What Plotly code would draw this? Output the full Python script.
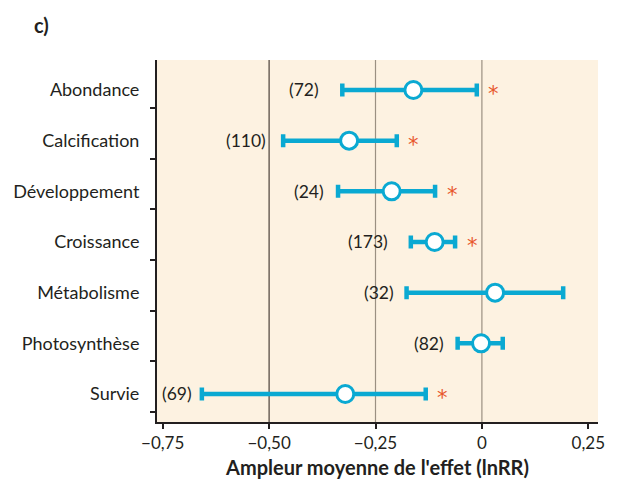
import plotly.graph_objects as go

# Effect sizes (lnRR) with confidence limits, one row per response
categories = ["Abondance", "Calcification", "Développement", "Croissance",
              "Métabolisme", "Photosynthèse", "Survie"]
mean_effect = [-0.161, -0.312, -0.212, -0.111, 0.031, -0.002, -0.321]
ci_low = [-0.328, -0.467, -0.338, -0.167, -0.177, -0.057, -0.658]
ci_high = [-0.012, -0.200, -0.110, -0.063, 0.191, 0.049, -0.132]
n_studies = [72, 110, 24, 173, 32, 82, 69]
significant = [True, True, True, True, False, False, True]

x_tickvals = [-0.75, -0.50, -0.25, 0, 0.25]
x_ticktext = ["\u22120,75", "\u22120,50", "\u22120,25", "0", "0,25"]
reference_lines = [-0.50, -0.25, 0]

# styling
BLUE = "#0aa9d2"
STAR = "#e8572c"
INK = "#231f20"
BG = "#fdf2e1"
FONT = "Lato"
label_gap = [21, 15, 12, 21, 11, 12, 8]  # px between count label and lower cap

rows = list(range(len(categories)))

fig = go.Figure()
fig.add_trace(go.Scatter(
    x=mean_effect, y=rows, mode="markers",
    marker=dict(size=17, color="white", line=dict(color=BLUE, width=3)),
    error_x=dict(type="data", symmetric=False,
                 array=[h - m for h, m in zip(ci_high, mean_effect)],
                 arrayminus=[m - l for m, l in zip(mean_effect, ci_low)],
                 color=BLUE, thickness=4.5, width=6.5),
    hoverinfo="skip", showlegend=False,
))

annotations = []
for i, (lo, hi, n, sig) in enumerate(zip(ci_low, ci_high, n_studies, significant)):
    annotations.append(dict(
        x=lo, y=i, xref="x", yref="y", text=f"({n})", showarrow=False,
        xanchor="right", yanchor="middle", xshift=-label_gap[i],
        font=dict(family=FONT, size=17.5, color=INK)))
    if sig:
        annotations.append(dict(
            x=hi, y=i, xref="x", yref="y", text="*", showarrow=False,
            xanchor="center", yanchor="middle", xshift=17, yshift=-4,
            font=dict(family="DejaVu Sans", size=21, color=STAR)))

# panel letter
annotations.append(dict(
    x=-125 / 441, y=1 + 35 / 362, xref="paper", yref="paper",
    text="<b>c)</b>", showarrow=False, xanchor="left", yanchor="middle",
    font=dict(family=FONT, size=20, color=INK)))

shapes = [dict(type="line", xref="x", yref="paper", x0=v, x1=v, y0=0, y1=1,
               line=dict(color="#4a4038" if v == -0.5 else "#9b9082", width=1.2),
               layer="below")
          for v in reference_lines]

fig.update_layout(
    width=622, height=482,
    margin=dict(l=157, r=24, t=60, b=60),
    paper_bgcolor="white", plot_bgcolor=BG,
    font=dict(family=FONT, size=18, color=INK),
    annotations=annotations, shapes=shapes,
    xaxis=dict(range=[-0.7634, 0.2728], tickvals=x_tickvals, ticktext=x_ticktext,
               showgrid=False, zeroline=False, showline=True, linewidth=2,
               linecolor=INK, ticks="outside", ticklen=5, tickwidth=2,
               tickcolor=INK, tickfont=dict(size=17), automargin=False,
               title=dict(text="<b>Ampleur moyenne de l'effet (lnRR)</b>",
                          font=dict(size=20), standoff=9)),
    yaxis=dict(range=[6.553, -0.592], tickvals=rows, ticktext=categories,
               showgrid=False, zeroline=False, showline=True, linewidth=2,
               linecolor=INK, ticks="", ticklabelstandoff=12, automargin=False,
               minor=dict(tickmode="array", tickvals=[r + 0.355 for r in rows],
                          ticks="outside", ticklen=5, tickwidth=2,
                          tickcolor=INK, showgrid=False)),
)

fig.write_html("out.html")
